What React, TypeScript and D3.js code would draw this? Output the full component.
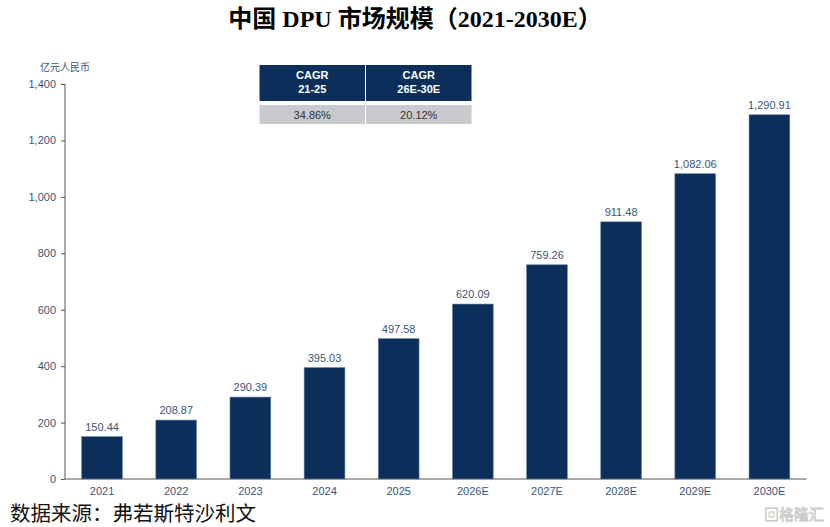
import React, { useEffect, useRef } from 'react';
import * as d3 from 'd3';

const years = ['2021', '2022', '2023', '2024', '2025', '2026E', '2027E', '2028E', '2029E', '2030E'];
const marketSize = [150.44, 208.87, 290.39, 395.03, 497.58, 620.09, 759.26, 911.48, 1082.06, 1290.91];
const yTicks = [0, 200, 400, 600, 800, 1000, 1200, 1400];
const cagrHeaders = [['CAGR', '21-25'], ['CAGR', '26E-30E']];
const cagrValues = ['34.86%', '20.12%'];

const W = 830;
const H = 527;
const NAVY = '#0b2f5a';
const LABEL = '#3b5578';
const SANS = '"Liberation Sans", Arial, "Noto Sans CJK SC", sans-serif';

const App: React.FC = () => {
  const svgRef = useRef<SVGSVGElement | null>(null);

  useEffect(() => {
    document.body.style.margin = '0';
    const svgEl = svgRef.current;
    if (!svgEl) return;

    const svg = d3.select(svgEl);
    svg.selectAll('*').remove();

    const x = d3.scaleBand<string>().domain(years).range([65, 806.5]).paddingInner(0.45).paddingOuter(0.225);
    const y = d3.scaleLinear().domain([0, 1400]).range([479, 84]);

    // Title
    svg.append('text')
      .attr('x', W / 2)
      .attr('y', 27)
      .attr('text-anchor', 'middle')
      .attr('font-family', '"Liberation Serif", "Times New Roman", "Noto Sans CJK SC", serif')
      .attr('font-weight', 'bold')
      .attr('font-size', 24)
      .attr('fill', '#000')
      .text('中国 DPU 市场规模（2021-2030E）');

    // Unit
    svg.append('text')
      .attr('x', 40)
      .attr('y', 71)
      .attr('font-family', SANS)
      .attr('font-size', 10)
      .attr('fill', LABEL)
      .text('亿元人民币');

    // Y axis
    const yAxis = svg.append('g')
      .attr('transform', 'translate(65,0)')
      .call(d3.axisLeft(y).tickValues(yTicks).tickSize(4).tickPadding(5).tickFormat(d3.format(',')));
    yAxis.selectAll('path,line').attr('stroke', '#555');
    yAxis.select('path').attr('d', `M0,${y(0)}V${y(1400)}`);
    yAxis.selectAll('text')
      .attr('fill', LABEL)
      .attr('font-family', SANS)
      .attr('font-size', 11);

    // X axis
    const xAxis = svg.append('g')
      .attr('transform', `translate(0,${y(0)})`)
      .call(d3.axisBottom(x).tickSize(0).tickPadding(8));
    xAxis.select('path').attr('stroke', '#555').attr('d', `M65,0H806.5`);
    xAxis.selectAll('text')
      .attr('fill', LABEL)
      .attr('font-family', SANS)
      .attr('font-size', 11);

    // Bars
    svg.append('g')
      .selectAll('rect')
      .data(marketSize)
      .join('rect')
      .attr('x', (_, i) => x(years[i]) as number)
      .attr('y', (d) => y(d))
      .attr('width', x.bandwidth())
      .attr('height', (d) => y(0) - y(d))
      .attr('fill', NAVY)
      .attr('stroke', '#6d86a6')
      .attr('stroke-width', 0.6);

    // Value labels
    svg.append('g')
      .selectAll('text')
      .data(marketSize)
      .join('text')
      .attr('x', (_, i) => (x(years[i]) as number) + x.bandwidth() / 2)
      .attr('y', (d) => y(d) - 6)
      .attr('text-anchor', 'middle')
      .attr('font-family', SANS)
      .attr('font-size', 11)
      .attr('fill', LABEL)
      .text((d) => d3.format(',.2f')(d));

    // CAGR table
    const tx = d3.scaleBand<number>().domain([0, 1]).range([259, 472]);
    const table = svg.append('g');
    cagrHeaders.forEach((lines, i) => {
      const cx = tx(i) as number;
      table.append('rect')
        .attr('x', cx + 0.5)
        .attr('y', 65)
        .attr('width', tx.bandwidth() - 1)
        .attr('height', 36)
        .attr('fill', NAVY);
      lines.forEach((l, j) => {
        table.append('text')
          .attr('x', cx + tx.bandwidth() / 2)
          .attr('y', 79 + j * 14)
          .attr('text-anchor', 'middle')
          .attr('font-family', SANS)
          .attr('font-weight', 'bold')
          .attr('font-size', 11)
          .attr('fill', '#fff')
          .text(l);
      });
      table.append('rect')
        .attr('x', cx + 0.5)
        .attr('y', 105)
        .attr('width', tx.bandwidth() - 1)
        .attr('height', 19)
        .attr('fill', '#c9cacd');
      table.append('text')
        .attr('x', cx + tx.bandwidth() / 2)
        .attr('y', 118.5)
        .attr('text-anchor', 'middle')
        .attr('font-family', SANS)
        .attr('font-size', 11)
        .attr('fill', '#333')
        .text(cagrValues[i]);
    });

    // Source
    svg.append('text')
      .attr('x', 10)
      .attr('y', 521)
      .attr('font-family', '"Noto Sans CJK SC", sans-serif')
      .attr('font-size', 20.5)
      .attr('fill', '#111')
      .text('数据来源：弗若斯特沙利文');

    // Watermark
    svg.append('text')
      .attr('x', 824)
      .attr('y', 520)
      .attr('text-anchor', 'end')
      .attr('font-family', '"Noto Sans CJK SC", sans-serif')
      .attr('font-size', 15)
      .attr('fill', 'none')
      .attr('stroke', '#c8c8c8')
      .attr('stroke-width', 0.8)
      .text('▣格隆汇');
  }, []);

  return (
    <svg ref={svgRef} width={W} height={H} style={{ display: 'block', background: '#fff' }} />
  );
};

export default App;
